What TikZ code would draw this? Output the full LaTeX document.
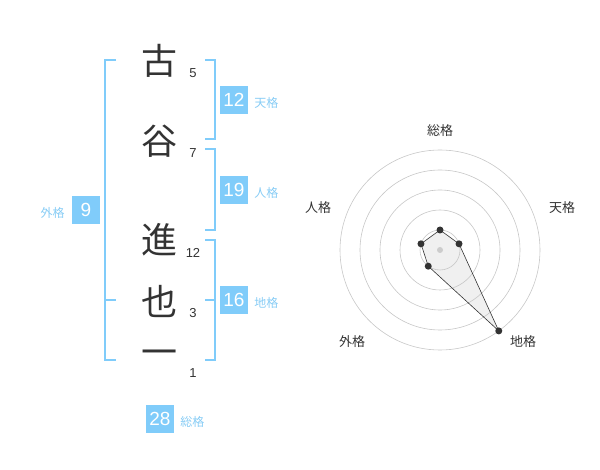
\documentclass[tikz,border=0pt]{standalone}
\usepackage{fontspec}
\usetikzlibrary{positioning}
\setmainfont{Liberation Sans}
\newfontfamily\jpfont{Noto Sans CJK JP}
\definecolor{kakublue}{RGB}{128,204,250}
\definecolor{kakulabel}{RGB}{135,204,245}
\definecolor{inkgray}{RGB}{51,51,51}

\tikzstyle{kanji}=[font=\jpfont\fontsize{36}{36}\selectfont,text=inkgray,inner sep=0pt]
\tikzstyle{strokes}=[font=\fontsize{13}{13}\selectfont,text=inkgray,inner sep=0pt]
\tikzstyle{score}=[fill=kakublue,text=white,minimum size=28pt,inner sep=0pt,font=\fontsize{19}{19}\selectfont]
\tikzstyle{kaku}=[text=kakulabel,font=\jpfont\fontsize{12}{12}\selectfont,inner sep=0pt]
\tikzstyle{bracket}=[draw=kakublue,line width=2pt]
\tikzstyle{ring}=[draw=black!22,line width=0.6pt]
\tikzstyle{axis label}=[font=\jpfont\fontsize{13}{13}\selectfont,text=inkgray,inner sep=0pt]
\tikzstyle{vertex}=[circle,fill=inkgray,minimum size=7pt,inner sep=0pt]

\begin{document}
\begin{tikzpicture}[x=1pt,y=-1pt]
     \useasboundingbox (0,0) rectangle (600,470);
     % The name, one character per node
     \foreach \pos/\name/\kj in {{(159,61)/k1/古}, {(159,141)/k2/谷},
       {(159,240)/k3/進}, {(159,301)/k4/也}, {(159,358)/k5/一}}
     \node[kanji] (\name) at \pos {\kj};

     % stroke counts
     \foreach \pos/\name/\num in {{(193,73)/n1/5}, {(193,153)/n2/7},
       {(193,253)/n3/12}, {(193,313)/n4/3}, {(193,373)/n5/1}}
     \node[strokes] (\name) at \pos {\num};

     % Brackets round the groups of characters
     \foreach \name/\top/\bot in {ten/60/139, jin/149/230, chi/240/360}
     \path[bracket] (205,\top) -- (215,\top) -- (215,\bot) -- (205,\bot);
     \path[bracket] (205,300) -- (215,300);
     \path[bracket] (116,60) -- (105,60) -- (105,360) -- (116,360);
     \path[bracket] (105,300) -- (116,300);

     % Scores and their names
     \foreach \pos/\name/\val in {{(234,100)/sten/12}, {(234,190)/sjin/19},
       {(234,300)/schi/16}, {(86,210)/sgai/9}, {(160,419)/ssou/28}}
     \node[score] (\name) at \pos {\val};
     \foreach \src/\name/\txt in {sten/lten/天格, sjin/ljin/人格,
       schi/lchi/地格, ssou/lsou/総格}
     \node[kaku,right=6pt of \src,yshift=-3pt] (\name) {\txt};
     \node[kaku,left=7pt of sgai,yshift=-3pt] (lgai) {外格};

     % The radar chart
     \begin{scope}[shift={(440,250)},yscale=-1]
     \foreach \ang/\val/\name in {90/1/vsou, 18/1/vten, -54/5/vchi,
       -126/1/vgai, 162/1/vjin}
     \coordinate (\name) at (\ang:\val*20);
     \path[fill=black!6]
       (vsou) -- (vten) -- (vchi) -- (vgai) -- (vjin) -- cycle;
     \foreach \r in {20,40,60,80,100}
     \draw[ring] (0,0) circle (\r);
     \path[draw=inkgray,line width=0.6pt]
       (vsou) -- (vten) -- (vchi) -- (vgai) -- (vjin) -- cycle;
     \node[circle,fill=black!20,minimum size=6pt,inner sep=0pt] (hub) at (0,0) {};
     \foreach \name in {vsou,vten,vchi,vgai,vjin}
     \node[vertex] at (\name) {};
     \end{scope}
     \foreach \pos/\name/\txt in {{(440,131)/asou/総格}, {(562,208)/aten/天格},
       {(523,342)/achi/地格}, {(352,342)/agai/外格}, {(318,208)/ajin/人格}}
     \node[axis label] (\name) at \pos {\txt};
\end{tikzpicture}
\end{document}
